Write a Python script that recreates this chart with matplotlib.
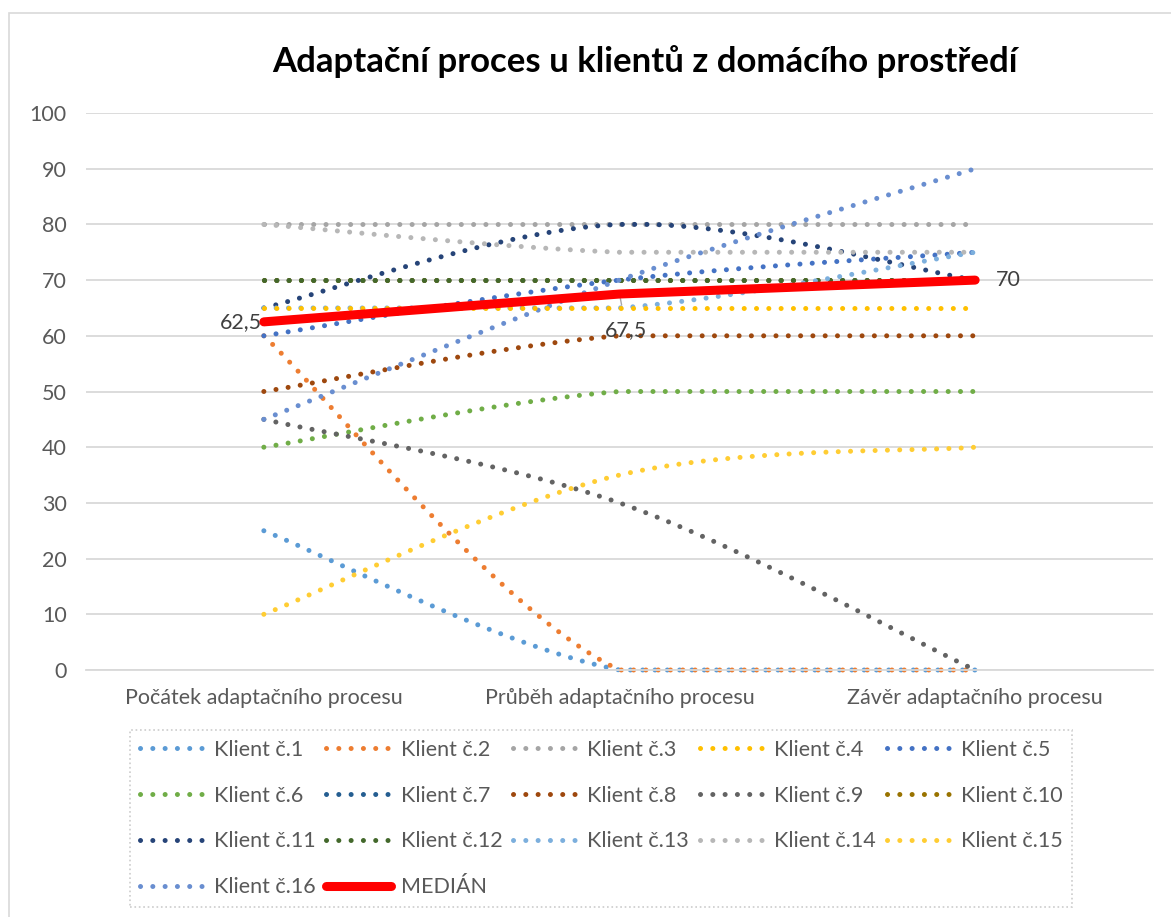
import numpy as np
import matplotlib.pyplot as plt
from matplotlib.patches import Rectangle

# categories and series values
categories = ['Počátek adaptačního procesu', 'Průběh adaptačního procesu', 'Závěr adaptačního procesu']
client_names = [f'Klient č.{i}' for i in range(1, 17)]
client_values = [
    [25, 0, 0],     # 1
    [60, 0, 0],     # 2
    [80, 80, 80],   # 3
    [65, 65, 65],   # 4
    [60, 70, 75],   # 5
    [40, 50, 50],   # 6
    [70, 70, 70],   # 7
    [50, 60, 60],   # 8
    [45, 30, 0],    # 9
    [70, 70, 70],   # 10
    [65, 80, 70],   # 11
    [70, 70, 70],   # 12
    [65, 65, 75],   # 13
    [80, 75, 75],   # 14
    [10, 35, 40],   # 15
    [45, 70, 90],   # 16
]
median_values = [62.5, 67.5, 70]
median_labels = ['62,5', '67,5', '70']
y_ticks = list(range(0, 101, 10))

client_colors = ['#5B9BD5', '#ED7D31', '#A5A5A5', '#FFC000', '#4472C4', '#70AD47',
                 '#255E91', '#9E480E', '#636363', '#997300', '#264478', '#43682B',
                 '#7CAFDD', '#B7B7B7', '#FFCD33', '#698ED0']

TEXT = '#595959'
GRID = '#D9D9D9'
FONT = 'Lato'
FS = 15.5
DOTS = (0, (0.01, 2.45))
LW = 3.6


def smooth(ys, steps=40):
    # Excel-like smoothed line (Catmull-Rom Bezier), each segment kept within its end values
    n = len(ys)
    t = np.linspace(0, 1, steps)
    xs_out, ys_out = [], []
    for i in range(n - 1):
        p0, p1, p2, p3 = ys[max(i - 1, 0)], ys[i], ys[i + 1], ys[min(i + 2, n - 1)]
        x0, x3 = i, i + 1
        x1 = i + (x3 - max(i - 1, 0)) / 6
        x2 = x3 - (min(i + 2, n - 1) - i) / 6
        c1 = p1 + (p2 - p0) / 6
        c2 = p2 - (p3 - p1) / 6
        bx = (1 - t) ** 3 * x0 + 3 * (1 - t) ** 2 * t * x1 + 3 * (1 - t) * t ** 2 * x2 + t ** 3 * x3
        by = (1 - t) ** 3 * p1 + 3 * (1 - t) ** 2 * t * c1 + 3 * (1 - t) * t ** 2 * c2 + t ** 3 * p2
        by = np.clip(by, min(p1, p2), max(p1, p2))
        xs_out.append(bx if i == 0 else bx[1:])
        ys_out.append(by if i == 0 else by[1:])
    return np.concatenate(xs_out), np.concatenate(ys_out)


fig = plt.figure(figsize=(11.71, 9.17), dpi=100)
fig.patches.append(Rectangle((9 / 1171, -0.01), 1.02, 1 - 13 / 917 + 0.01, transform=fig.transFigure,
                             fill=False, edgecolor=GRID, linewidth=1.2))

ax = fig.add_axes([86 / 1171, 1 - 670 / 917, (1153 - 86) / 1171, (670 - 113) / 917])

handles = {}
for i, (name, vals, col) in enumerate(zip(client_names, client_values, client_colors)):
    sx, sy = smooth(vals)
    z = 3 if i == 3 else 2
    line, = ax.plot(sx, sy, color=col, linewidth=LW, linestyle=DOTS,
                    dash_capstyle='round', zorder=z, clip_on=False)
    handles[name] = line

med_line, = ax.plot(range(len(categories)), median_values, color='#FF0000', linewidth=6.5,
                    solid_capstyle='round', zorder=5)
handles['MEDIÁN'] = med_line

# data labels for the median
ax.annotate(median_labels[0], (0, median_values[0]), xytext=(-1, 0), textcoords='offset points',
            ha='right', va='center', fontsize=FS, color='#404040', family=FONT)
ax.annotate(median_labels[1], (1, median_values[1]), xytext=(5, -26), textcoords='offset points',
            ha='center', va='center', fontsize=FS, color='#404040', family=FONT,
            arrowprops=dict(arrowstyle='-', color='#A6A6A6', lw=1, shrinkA=9, shrinkB=2))
ax.annotate(median_labels[2], (2, median_values[2]), xytext=(15, 0), textcoords='offset points',
            ha='left', va='center', fontsize=FS, color='#404040', family=FONT)

ax.set_xlim(-0.5, 2.5)
ax.set_ylim(0, 100)
ax.set_xticks(range(len(categories)), categories)
ax.set_yticks(y_ticks)
ax.grid(axis='y', color=GRID, linewidth=1.3)
ax.set_axisbelow(True)
for s in ['top', 'right', 'left']:
    ax.spines[s].set_visible(False)
ax.spines['bottom'].set_color(GRID)
ax.spines['bottom'].set_linewidth(1.3)
ax.tick_params(length=0, colors=TEXT, labelsize=FS)
ax.tick_params(axis='y', pad=14)
ax.tick_params(axis='x', pad=13)
for lab in ax.get_xticklabels() + ax.get_yticklabels():
    lab.set_family(FONT)

fig.text(645 / 1171, 1 - 62 / 917, 'Adaptační proces u klientů z domácího prostředí',
         ha='center', va='center', fontsize=25, fontweight='bold', family=FONT, color='black')

# legend filled column-wise, arranged so rows read 1-5, 6-10, ...
order = ['Klient č.1', 'Klient č.6', 'Klient č.11', 'Klient č.16',
         'Klient č.2', 'Klient č.7', 'Klient č.12', 'MEDIÁN',
         'Klient č.3', 'Klient č.8', 'Klient č.13',
         'Klient č.4', 'Klient č.9', 'Klient č.14',
         'Klient č.5', 'Klient č.10', 'Klient č.15']
leg = fig.legend([handles[k] for k in order], order, ncol=5, loc='upper left',
                 bbox_to_anchor=(130 / 1171, 1 - 730 / 917), borderaxespad=0,
                 frameon=True, fancybox=False,
                 prop={'family': FONT, 'size': FS}, handlelength=3.0, handletextpad=0.45,
                 columnspacing=0.5, labelspacing=1.2, borderpad=0.45, labelcolor=TEXT)
leg.get_frame().set_edgecolor('#BFBFBF')
leg.get_frame().set_linestyle(':')
leg.get_frame().set_linewidth(1.2)

fig.savefig('out.png', dpi=100)
